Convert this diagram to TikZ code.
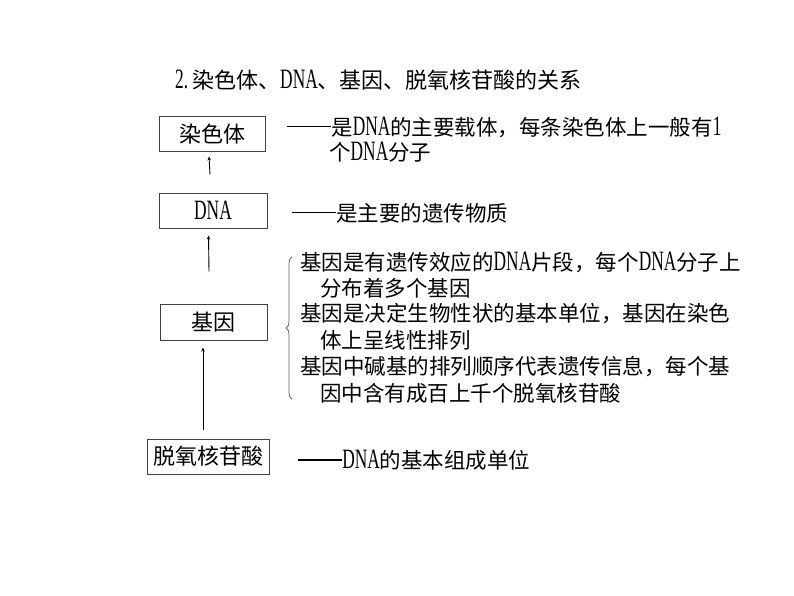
\documentclass[tikz,border=0pt]{standalone}
\usepackage{fontspec}
\setmainfont{Noto Sans CJK SC}
\newfontfamily\latfont{Liberation Serif}[FakeStretch=0.62]
\newcommand\lat[1]{{\latfont\fontsize{28}{28}\selectfont #1}}
\newcommand\dd{\rule[0.36em]{2.05em}{0.05em}}
\usetikzlibrary{arrows.meta,decorations.pathreplacing}
\begin{document}
\begin{tikzpicture}[x=1pt,y=-1pt,
  txt/.style={font=\fontsize{21.5}{21.5}\selectfont, inner sep=0pt, anchor=west},
  box/.style={draw=black!75, line width=1pt, inner sep=0pt, font=\fontsize{22}{22}\selectfont},
  arr/.style={line width=0.9pt, -{Stealth[length=4pt,width=3.5pt]}}]
\useasboundingbox[fill=white] (0,0) rectangle (794,596);
% title
\node[txt, font=\fontsize{22}{22}\selectfont] (title) at (175,80) {\lat{2.}\hspace{4pt}染色体、\lat{DNA}、基因、脱氧核苷酸的关系};
% boxes
\node[box, minimum width=106pt, minimum height=35pt] (chr) at (212,134.5) {染色体};
\node[box, minimum width=108pt, minimum height=35pt] (dna) at (213,210.5) {\lat{DNA}};
\node[box, minimum width=107pt, minimum height=36pt] (gene) at (213.5,322) {基因};
\node[box, minimum width=122pt, minimum height=35pt] (deo) at (208,456.5) {脱氧核苷酸};
% arrows
\draw[arr] ([xshift=-3pt,yshift=18pt]dna.north) -- ([xshift=-3pt,yshift=-4pt]chr.south);
\draw[arr] ([xshift=-4.5pt,yshift=32pt]gene.north) -- ([xshift=-4.5pt,yshift=-7pt]dna.south);
\draw[arr] ([xshift=-5pt,yshift=9pt]deo.north) -- ([xshift=-10.5pt,yshift=-7pt]gene.south);
% descriptions
\node[txt] (c1) at (287,127) {\dd 是\lat{DNA}的主要载体，每条染色体上一般有\lat{1}};
\node[txt] (c2) at (329,152) {个\lat{DNA}分子};
\node[txt] (d1) at (292,213) {\dd 是主要的遗传物质};
\node[txt] (g1) at (300,262) {基因是有遗传效应的\lat{DNA}片段，每个\lat{DNA}分子上};
\node[txt] (g2) at (320,288) {分布着多个基因};
\node[txt] (g3) at (300,314) {基因是决定生物性状的基本单位，基因在染色};
\node[txt] (g4) at (320,340) {体上呈线性排列};
\node[txt] (g5) at (300,367) {基因中碱基的排列顺序代表遗传信息，每个基};
\node[txt] (g6) at (320,393) {因中含有成百上千个脱氧核苷酸};
\node[txt] (n1) at (298,460) {\dd\lat{DNA}的基本组成单位};
% brace
\coordinate (bb) at (292,399);
\coordinate (bt) at (292,257);
\draw[black!60, line width=0.8pt, decorate, decoration={brace, amplitude=6pt}] (bb) -- (bt);
\end{tikzpicture}
\end{document}
